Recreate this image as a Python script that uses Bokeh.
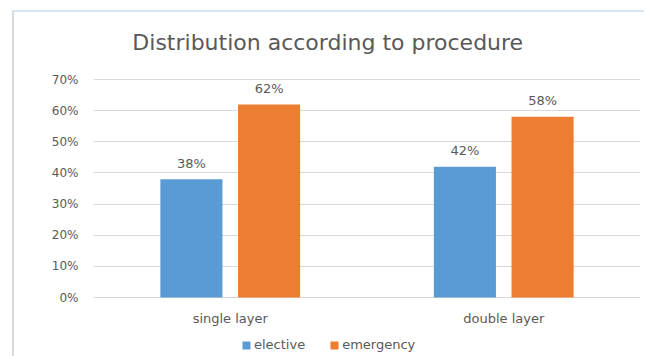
from bokeh.plotting import figure
from bokeh.models import (FactorRange, Range1d, Legend, LegendItem, ColumnDataSource,
                          NumeralTickFormatter, FixedTicker)
from bokeh.transform import dodge
from bokeh.core.properties import value
from bokeh.embed import file_html
from bokeh.resources import INLINE

# Chart data
title_text = "Distribution according to procedure"
categories = ["single layer", "double layer"]
series_names = ["elective", "emergency"]
elective = [0.38, 0.42]
emergency = [0.62, 0.58]
y_ticks = [0.0, 0.1, 0.2, 0.3, 0.4, 0.5, 0.6, 0.7]

BLUE = "#5B9BD5"
ORANGE = "#ED7D31"
TEXT = "#595959"
GRID = "#D9D9D9"
FONT = "DejaVu Sans"

# Layout (pixels inside the canvas)
CANVAS_W, CANVAS_H = 632, 346
FRAME_LEFT, FRAME_RIGHT_GAP = 79, 6
AXIS_TOP_PX, AXIS_ZERO_PX = 67, 285          # where the top tick and 0 sit
px_per_unit = (AXIS_ZERO_PX - AXIS_TOP_PX) / y_ticks[-1]
y_start = -(CANVAS_H - AXIS_ZERO_PX) / px_per_unit
y_end = y_ticks[-1] + AXIS_TOP_PX / px_per_unit

source = ColumnDataSource(data=dict(
    cat=categories,
    elective=elective,
    emergency=emergency,
    elective_lbl=[f"{v:.0%}" for v in elective],
    emergency_lbl=[f"{v:.0%}" for v in emergency],
    base=[0.0] * len(categories),
))

p = figure(
    width=CANVAS_W, height=CANVAS_H, title=None,
    x_range=FactorRange(*categories, range_padding=0),
    y_range=Range1d(y_start, y_end),
    x_axis_location=None,
    output_backend="svg", toolbar_location=None,
    min_border_left=FRAME_LEFT, min_border_right=FRAME_RIGHT_GAP,
    min_border_top=0, min_border_bottom=0,
    background_fill_color="white", border_fill_color="white",
    outline_line_color=None,
    styles={"margin-left": "12px", "margin-top": "10px",
            "border-left": "2px solid #D9D9D9", "border-top": "2px solid #D6E6F2"},
)

BAR_W = 0.227
OFF = 0.142

r1 = p.vbar(x=dodge("cat", -OFF, range=p.x_range), top="elective", width=BAR_W,
            source=source, fill_color=BLUE, line_color=None)
r2 = p.vbar(x=dodge("cat", OFF, range=p.x_range), top="emergency", width=BAR_W,
            source=source, fill_color=ORANGE, line_color=None)

# value labels above bars
for col, off in (("elective", -OFF), ("emergency", OFF)):
    p.text(x=dodge("cat", off, range=p.x_range), y=col, text=col + "_lbl", source=source,
           text_align="center", text_baseline="middle", y_offset=-16,
           text_font=value(FONT), text_font_size="13px", text_color=TEXT)

# category names under the baseline
p.text(x="cat", y="base", text="cat", source=source, y_offset=21,
       text_align="center", text_baseline="middle",
       text_font=value(FONT), text_font_size="13px", text_color=TEXT)

# chart title, near the top edge
p.text(x=[categories[1]], y=[y_end], text=[title_text], x_offset=-176, y_offset=30,
       text_align="center", text_baseline="middle",
       text_font=value(FONT), text_font_size="22px", text_color=TEXT)

# value axis
p.yaxis.ticker = FixedTicker(ticks=y_ticks)
p.yaxis.formatter = NumeralTickFormatter(format="0%")
ax = p.yaxis[0]
ax.axis_line_color = None
ax.major_tick_line_color = None
ax.minor_tick_line_color = None
ax.major_tick_out = 0
ax.major_tick_in = 0
ax.major_label_text_color = TEXT
ax.major_label_text_font = FONT
ax.major_label_text_font_size = "12px"
ax.major_label_standoff = 15

p.xgrid.grid_line_color = None
p.ygrid.grid_line_color = GRID
p.ygrid.grid_line_width = 1

# legend under the category names (offset from the frame's lower-left corner)
legend = Legend(items=[LegendItem(label=series_names[0], renderers=[r1]),
                       LegendItem(label=series_names[1], renderers=[r2])],
                orientation="horizontal", location=(148, 6),
                label_text_font=FONT, label_text_font_size="13px", label_text_color=TEXT,
                glyph_width=10, glyph_height=10, label_standoff=3, spacing=24,
                padding=0, margin=0, border_line_color=None, background_fill_alpha=0)
p.add_layout(legend)

open("out.html", "w").write(file_html(p, INLINE))
